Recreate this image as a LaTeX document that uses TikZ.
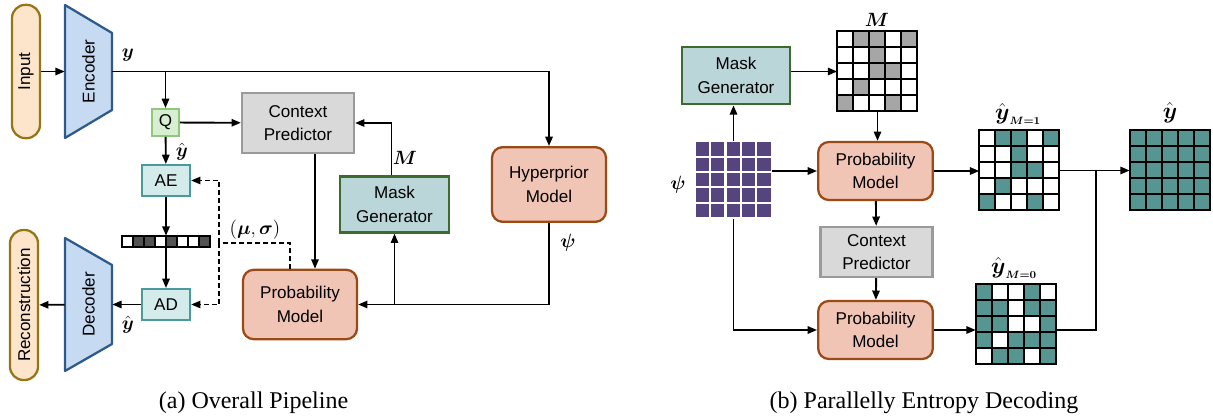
\documentclass[tikz,border=0pt]{standalone}
\usepackage{amsmath}
\usepackage{graphicx}
\usepackage{fontspec}
\setmainfont{Liberation Serif}
\newfontfamily\boxfont{Liberation Sans}
\usetikzlibrary{positioning, arrows.meta, calc}

\definecolor{pillfill}{HTML}{FCE5CB}
\definecolor{pilldraw}{HTML}{957514}
\definecolor{coderfill}{HTML}{C6DAF2}
\definecolor{coderdraw}{HTML}{2D5A8A}
\definecolor{qfill}{HTML}{D6EFD0}
\definecolor{qdraw}{HTML}{92C57E}
\definecolor{ctxfill}{HTML}{D9D9D9}
\definecolor{ctxdraw}{HTML}{9A9A9A}
\definecolor{codecfill}{HTML}{D3EBEB}
\definecolor{codecdraw}{HTML}{4A999C}
\definecolor{probfill}{HTML}{F0C5B5}
\definecolor{probdraw}{HTML}{9B4A15}
\definecolor{maskfill}{HTML}{BAD6D8}
\definecolor{maskdraw}{HTML}{3D6A2D}
\definecolor{latteal}{HTML}{579593}
\definecolor{maskgray}{HTML}{A6A6A6}
\definecolor{hyperpurple}{HTML}{56447F}
\definecolor{bardark}{HTML}{525252}

% cells of a latent / mask grid laid over a named node
\newcommand{\cellgrid}[5][cell]{%
  \foreach \row [count=\r from 0] in {#5} {
    \foreach \v [count=\c from 0] in \row {
      \ifnum\v=1 \def\cc{#4}\else\def\cc{white}\fi
      \filldraw[#1, fill=\cc] ($(#2.north west)+(\c*#3,\r*#3)$) rectangle ++(#3,#3);
    }
  }%
}

\begin{document}
\begin{tikzpicture}[
    x=0.75pt, y=-0.75pt,
    box/.style={draw, line width=1.7pt, align=center, inner sep=0pt,
        font=\boxfont\fontsize{12.8}{17.5}\selectfont},
    pill/.style={box, fill=pillfill, draw=pilldraw, rounded corners=10pt},
    coder/.style={draw=coderdraw, fill=coderfill, line width=1.7pt, line join=round},
    coderlabel/.style={inner sep=0pt, minimum width=35.25pt, minimum height=100pt,
        font=\boxfont\fontsize{12.8}{17.5}\selectfont},
    quant/.style={box, fill=qfill, draw=qdraw, minimum size=20pt},
    ctx/.style={box, fill=ctxfill, draw=ctxdraw, minimum width=84pt, minimum height=42pt},
    codec/.style={box, fill=codecfill, draw=codecdraw, minimum width=36pt, minimum height=23pt},
    prob/.style={box, fill=probfill, draw=probdraw, rounded corners=8pt,
        minimum width=86pt, minimum height=43.5pt},
    maskgen/.style={box, fill=maskfill, draw=maskdraw, minimum width=82pt, minimum height=42pt},
    gridnode/.style={minimum size=60pt, inner sep=0pt},
    cell/.style={draw=black, line width=1.8pt},
    barcell/.style={draw=black, line width=1.5pt},
    psicell/.style={draw=white, line width=1.6pt},
    link/.style={line width=1.4pt},
    arr/.style={link, -{Triangle[length=7pt,width=5.5pt]}},
    dashlink/.style={line width=1.3pt, dash pattern=on 3.5pt off 2.5pt},
    lbl/.style={inner sep=1pt, font=\fontsize{15}{17}\selectfont},
    caption/.style={font=\fontsize{18}{21}\selectfont}
]
    \useasboundingbox (0,0) rectangle (1213,417);

    % (a) overall pipeline
    \draw[coder] (65,5) -- (112,33) -- (112,110) -- (65,138) -- cycle;
    \draw[coder] (65,238) -- (112,265) -- (112,344) -- (65,371) -- cycle;

    \node[pill, minimum width=21pt, minimum height=100pt] (input) at (26,71.5) {\rotatebox{90}{Input}};
    \node[coderlabel] (enc) at (88.5,71.5) {\rotatebox{90}{Encoder}};
    \node[coderlabel] (dec) at (88.5,304.5) {\rotatebox{90}{Decoder}};
    \node[pill, minimum width=21pt, minimum height=112.5pt] (rec) at (24,305) {\rotatebox{90}{Reconstruction}};

    \node[quant] (q) at (165.5,122.5) {Q};
    \node[ctx, minimum height=45pt] (ctx) at (298,123) {Context\\Predictor};
    \node[codec] (ae) at (166,180.5) {AE};
    \node[gridnode, minimum width=66pt, minimum height=9pt] (bar) at (166,242) {};
    \cellgrid[barcell]{bar}{11}{bardark}{{0,1,1,0,1,0,0,1}}
    \node[codec] (ad) at (166,304.5) {AD};
    \node[prob, minimum width=85.5pt, minimum height=52pt] (prob) at (300,304.5) {Probability\\Model};
    \node[maskgen] (mask) at (394.5,204.5) {Mask\\Generator};
    \node[prob, minimum width=85.5pt, minimum height=56pt] (hyper) at (549,184.5) {Hyperprior\\Model};

    \coordinate (split) at (219,243);

    \draw[arr] (input) -- (enc);
    \draw[arr] (enc.east) -| (hyper.north);
    \draw[arr] (enc.east -| q.north) -- (q.north);
    \draw[arr] (q) -- (ctx);
    \draw[arr] (q) -- (ae);
    \draw[arr] (ae) -- (bar);
    \draw[arr] (bar) -- (ad);
    \draw[arr] (ad) -- (dec);
    \draw[arr] (dec) -- (rec);
    \draw[arr] ($(ctx.south)+(17,0)$) -- ($(prob.north)+(15,0)$);
    \draw[arr] ($(mask.north)+(-3,0)$) |- (ctx.east);
    \draw[arr] (hyper.south) |- (prob.east);
    \draw[arr] (prob.east -| mask.south) -- (mask.south);
    \draw[dashlink] ($(prob.north)+(-10,0)$) |- (split);
    \draw[dashlink, -{Triangle[length=7pt,width=5.5pt]}] (split) |- (ae.east);
    \draw[dashlink, -{Triangle[length=7pt,width=5.5pt]}] (split) |- (ad.east);

    \node[lbl] (ylbl) at (128,55) {$\boldsymbol{y}$};
    \node[lbl] (yqlbl) at (182,152) {$\hat{\boldsymbol{y}}$};
    \node[lbl] (ydlbl) at (128,325) {$\hat{\boldsymbol{y}}$};
    \node[lbl] (mslbl) at (255,230) {$(\boldsymbol{\mu},\boldsymbol{\sigma})$};
    \node[lbl] (mlbl) at (405,158) {$\boldsymbol{M}$};
    \node[lbl] (psilbl) at (568,243) {$\boldsymbol{\psi}$};

    \node[caption] (capa) at (253.5,403) {(a) Overall Pipeline};

    % (b) parallel entropy decoding
    \node[maskgen, minimum width=81pt, minimum height=43pt] (mask2) at (736,75.5) {Mask\\Generator};
    \node[gridnode] (mgrid) at (877.5,71.5) {};
    \cellgrid{mgrid}{16}{maskgray}{{0,1,1,0,1},{0,0,1,0,0},{0,0,1,1,0},{0,1,0,0,0},{1,0,0,1,0}}
    \node[gridnode, minimum size=57.75pt] (psi) at (733.5,180) {};
    \cellgrid[psicell]{psi}{15.4}{hyperpurple}{{1,1,1,1,1},{1,1,1,1,1},{1,1,1,1,1},{1,1,1,1,1},{1,1,1,1,1}}
    \node[prob] (prob1) at (875.5,171) {Probability\\Model};
    \node[ctx, minimum height=37.5pt] (ctx2) at (876.5,252) {Context\\Predictor};
    \node[prob] (prob2) at (875.5,330) {Probability\\Model};
    \node[gridnode] (ym1) at (1019.5,170.5) {};
    \cellgrid{ym1}{16}{latteal}{{0,1,1,0,1},{0,0,1,0,0},{0,0,1,1,0},{0,1,0,0,0},{1,0,0,1,0}}
    \node[gridnode] (ym0) at (1016,324.5) {};
    \cellgrid{ym0}{16}{latteal}{{1,0,0,1,0},{1,1,0,1,1},{1,1,0,0,1},{1,0,1,1,1},{0,1,1,0,1}}
    \node[gridnode] (yhat) at (1170,170.5) {};
    \cellgrid{yhat}{16}{latteal}{{1,1,1,1,1},{1,1,1,1,1},{1,1,1,1,1},{1,1,1,1,1},{1,1,1,1,1}}

    \coordinate (join) at (1096,170.5);

    \draw[arr] (psi.north) -- (psi.north |- mask2.south);
    \draw[arr] (mgrid.west -| mask2.east) -- (mgrid.west);
    \draw[arr] (mgrid.south) -- (mgrid.south |- prob1.north);
    \draw[arr] (psi.east |- prob1.west) -- (prob1.west);
    \draw[arr] (prob1) -- (ctx2);
    \draw[arr] (ctx2) -- (prob2);
    \draw[arr] (psi.south) |- (prob2.west);
    \draw[arr] (prob1.east) -- (prob1.east -| ym1.west);
    \draw[arr] (prob2.east) -- (prob2.east -| ym0.west);
    \draw[arr] (ym1) -- (yhat);
    \draw[link] (ym0.east |- prob2.east) -| (join);

    \node[lbl] (mlbl2) at (877,20) {$\boldsymbol{M}$};
    \node[lbl] (psilbl2) at (678,185) {$\boldsymbol{\psi}$};
    \node[lbl, font=\fontsize{16}{18}\selectfont] (ym1lbl) at (1018,114) {$\hat{\boldsymbol{y}}_{\scriptscriptstyle\boldsymbol{M=1}}$};
    \node[lbl, font=\fontsize{16}{18}\selectfont] (ym0lbl) at (1014,268) {$\hat{\boldsymbol{y}}_{\scriptscriptstyle\boldsymbol{M=0}}$};
    \node[lbl, font=\fontsize{16}{18}\selectfont] (yhatlbl) at (1170,113) {$\hat{\boldsymbol{y}}$};

    \node[caption] (capb) at (924,403) {(b) Parallelly Entropy Decoding};
\end{tikzpicture}
\end{document}
